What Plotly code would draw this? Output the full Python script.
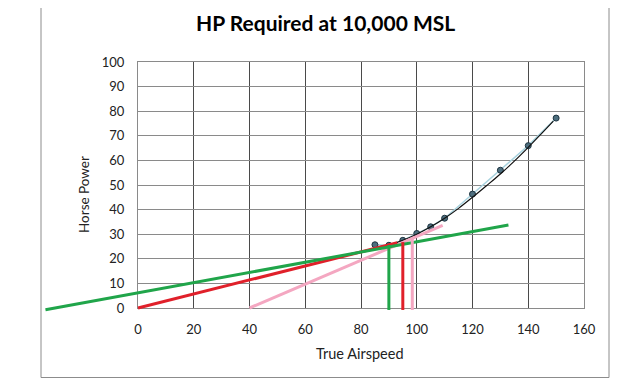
import plotly.graph_objects as go

# ---------------- data ----------------
airspeed = [85, 90, 95, 100, 105, 110, 120, 130, 140, 150]
hp_required = [25.7, 25.5, 27.5, 30.3, 33.0, 36.5, 46.3, 56.0, 66.0, 77.2]

trend_x = [87, 90, 95, 100, 105, 110, 115, 120, 125, 130, 135, 140, 145, 149]
trend_y = [25.1, 25.6, 27.5, 30.0, 33.0, 36.5, 40.5, 45.0, 49.7, 54.5, 59.7, 65.3, 71.2, 76.0]

green_x = [-33.2, 132.9]
green_y = [-0.7, 33.7]
red_x = [0, 93]
red_y = [0, 26.5]
pink_x = [40, 109.3]
pink_y = [0, 33.6]

green_v_x = [90, 90]
green_v_y = [-0.8, 25.6]
red_v_x = [95, 95]
red_v_y = [-0.8, 26.8]
pink_v_x = [98.4, 98.4]
pink_v_y = [-0.8, 28.4]

x_ticks = [0, 20, 40, 60, 80, 100, 120, 140, 160]
y_ticks = [0, 10, 20, 30, 40, 50, 60, 70, 80, 90, 100]

title_text = "HP Required at 10,000 MSL"
x_title = "True Airspeed"
y_title = "Horse Power"

# ---------------- layout geometry (screen pixels; page has 8px body margin) ----------------
OFF = 8
W, H = 643 - OFF, 379 - OFF
PX0, PX1 = 138 - OFF, 584 - OFF        # plot area x (0 .. 160)
PY_TOP, PY_BOT = 62 - OFF, 308 - OFF   # plot area y (100 .. 0)
ML, MR, MT, MB = 28, W - PX1, PY_TOP, 50
pw = W - ML - MR
ph = H - MT - MB

def px(x):
    return (x - OFF - ML) / pw

def py(y):
    return (H - MB - (y - OFF)) / ph

xscale = (PX1 - PX0) / 160.0
yscale = (PY_BOT - PY_TOP) / 100.0
x2_range = [(ML - PX0) / xscale, 160]
y2_range = [-((H - MB) - PY_BOT) / yscale, 100]

font = "Lato, 'Open Sans', sans-serif"

fig = go.Figure()

# data series on main axes
fig.add_trace(go.Scatter(x=airspeed, y=hp_required, mode="lines+markers",
                         line=dict(color="#a9d3df", width=1.5),
                         marker=dict(size=6, color="#4d6e7e",
                                     line=dict(color="#1d3340", width=1)),
                         xaxis="x", yaxis="y", showlegend=False))
fig.add_trace(go.Scatter(x=trend_x, y=trend_y, mode="lines",
                         line=dict(color="#111111", width=1.2, shape="spline"),
                         xaxis="x", yaxis="y", showlegend=False))

# tangent / marker lines on a wider invisible subplot (can reach outside the grid)
for xs, ys, col in [(pink_x, pink_y, "#f4a7c1"), (red_x, red_y, "#e0202a"),
                    (green_x, green_y, "#20a54a"),
                    (pink_v_x, pink_v_y, "#f4a7c1"), (red_v_x, red_v_y, "#e0202a"),
                    (green_v_x, green_v_y, "#20a54a")]:
    fig.add_trace(go.Scatter(x=xs, y=ys, mode="lines",
                             line=dict(color=col, width=3),
                             xaxis="x2", yaxis="y2", showlegend=False))

fig.update_layout(
    width=W, height=H,
    margin=dict(l=ML, r=MR, t=MT, b=MB, pad=0),
    paper_bgcolor="white", plot_bgcolor="rgba(0,0,0,0)",
    font=dict(family=font, size=13, color="#222222"),
    xaxis=dict(domain=[(PX0 - ML) / pw, 1], range=[0, 160], tickvals=x_ticks,
               anchor="y",
               showgrid=True, gridcolor="#4a4a4a", gridwidth=1,
               zeroline=False, showline=True, mirror=True, linecolor="#8a8a8a",
               ticks="", ticklabelstandoff=9, tickfont=dict(size=13, family=font),
               fixedrange=True),
    yaxis=dict(domain=[((H - MB) - PY_BOT) / ph, 1], range=[0, 100], tickvals=y_ticks,
               anchor="x",
               showgrid=True, gridcolor="#8a8a8a", gridwidth=1,
               zeroline=False, showline=True, mirror=True, linecolor="#8a8a8a",
               ticks="", ticklabelstandoff=10, tickfont=dict(size=13, family=font),
               fixedrange=True),
    xaxis2=dict(domain=[0, 1], range=x2_range, anchor="y2", visible=False,
                showgrid=False, zeroline=False, fixedrange=True),
    yaxis2=dict(domain=[0, 1], range=y2_range, anchor="x2", visible=False,
                showgrid=False, zeroline=False, fixedrange=True),
    shapes=[dict(type="rect", xref="paper", yref="paper",
                 x0=px(41), x1=px(609), y0=py(377.5), y1=py(2),
                 line=dict(color="#8c8c8c", width=1), layer="below")],
    annotations=[
        dict(text="<b>" + title_text + "</b>", xref="paper", yref="paper",
             x=px(325), y=py(22), showarrow=False, xanchor="center", yanchor="middle",
             font=dict(size=21, family=font, color="#000000")),
        dict(text=x_title, xref="paper", yref="paper",
             x=px(360), y=py(353), showarrow=False, xanchor="center", yanchor="middle",
             font=dict(size=14.5, family=font, color="#222222")),
        dict(text=y_title, xref="paper", yref="paper", textangle=-90,
             x=px(84), y=py(195), showarrow=False, xanchor="center", yanchor="middle",
             font=dict(size=13.5, family=font, color="#222222")),
    ],
)

fig.write_html("out.html")
